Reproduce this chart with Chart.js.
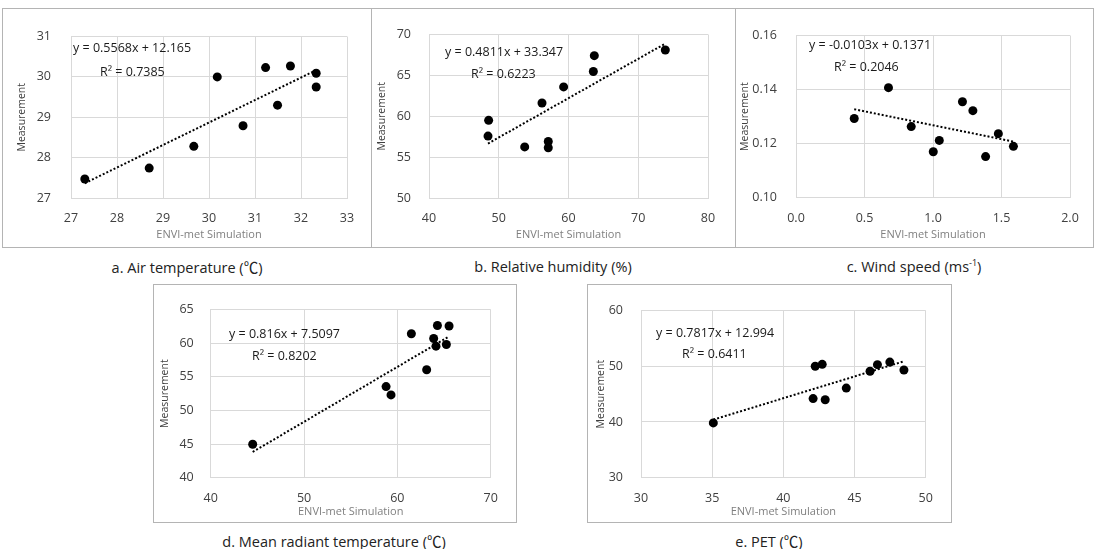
<!DOCTYPE html>
<html>
<head>
<meta charset="utf-8">
<script src="https://cdn.jsdelivr.net/npm/chart.js@4.4.1/dist/chart.umd.min.js"></script>
<style>
  body { margin: 0; background: #fff; width: 1095px; height: 549px; position: relative; overflow: hidden;
         font-family: "Open Sans", "Noto Sans CJK KR", sans-serif; }
  .box { position: absolute; border: 1px solid #b4b4b4; box-sizing: border-box; background: #fff; }
  .box canvas { position: absolute; left: 0; top: 0; }
  .cap { position: absolute; transform: translate(-50%, -50%); font-size: 14.5px; color: #222; white-space: nowrap; }
  .cap sup { font-size: 9px; }
</style>
</head>
<body>
<div class="cap" style="left:187px;top:266px">a. Air temperature (℃)</div>
<div class="cap" style="left:553px;top:266px">b. Relative humidity (%)</div>
<div class="cap" style="left:914px;top:266px">c. Wind speed (ms<sup>-1</sup>)</div>
<div class="cap" style="left:334px;top:540px">d. Mean radiant temperature (℃)</div>
<div class="cap" style="left:769px;top:540px">e. PET (℃)</div>
<script>
// a. Air temperature
const airSim  = [27.30, 28.70, 29.67, 30.18, 30.74, 31.23, 31.49, 31.77, 32.33, 32.33];
const airMeas = [27.47, 27.74, 28.28, 30.00, 28.79, 30.23, 29.30, 30.27, 30.09, 29.75];
const airXTicks = [27, 28, 29, 30, 31, 32, 33];
const airYTicks = [27, 28, 29, 30, 31];

// b. Relative humidity
const rhSim  = [48.55, 48.46, 53.72, 56.20, 57.10, 57.10, 59.30, 63.56, 63.70, 73.88];
const rhMeas = [59.50, 57.57, 56.25, 61.62, 56.91, 56.14, 63.59, 65.48, 67.41, 68.10];
const rhXTicks = [40, 50, 60, 70, 80];
const rhYTicks = [50, 55, 60, 65, 70];

// c. Wind speed
const wsSim  = [0.425, 0.675, 0.841, 1.002, 1.046, 1.215, 1.291, 1.384, 1.477, 1.587];
const wsMeas = [0.1293, 0.1407, 0.1263, 0.1170, 0.1212, 0.1355, 0.1322, 0.1152, 0.1237, 0.1190];
const wsXTicks = [0.0, 0.5, 1.0, 1.5, 2.0];
const wsYTicks = [0.10, 0.12, 0.14, 0.16];

// d. Mean radiant temperature
const mrtSim  = [44.50, 58.79, 59.32, 61.50, 63.14, 63.89, 64.14, 64.29, 65.25, 65.54];
const mrtMeas = [44.97, 53.54, 52.31, 61.40, 56.05, 60.69, 59.55, 62.63, 59.79, 62.54];
const mrtXTicks = [40, 50, 60, 70];
const mrtYTicks = [40, 45, 50, 55, 60, 65];

// e. PET
const petSim  = [35.08, 42.09, 42.24, 42.73, 42.94, 44.42, 46.09, 46.61, 47.48, 48.47];
const petMeas = [39.83, 44.20, 50.00, 50.34, 43.98, 46.08, 49.09, 50.28, 50.74, 49.32];
const petXTicks = [30, 35, 40, 45, 50];
const petYTicks = [30, 40, 50, 60];

Chart.defaults.font.family = "'Open Sans', 'Noto Sans CJK KR', sans-serif";

// page positions of each frame and plot area: [left, top, right, bottom]
const panels = [
  { sim: airSim, meas: airMeas, xTicks: airXTicks, yTicks: airYTicks, xDec: 0, yDec: 0,
    slope: 0.5568, icpt: 12.165, eq: 'y = 0.5568x + 12.165', r2: 'R² = 0.7385',
    box: [2, 8, 371, 247], plot: [71, 24.5, 347, 198], yTitleX: 22, xTitleY: 235, yPad: 20,
    eqPos: [73, 48], r2Pos: [100, 72] },
  { sim: rhSim, meas: rhMeas, xTicks: rhXTicks, yTicks: rhYTicks, xDec: 0, yDec: 0,
    slope: 0.4811, icpt: 33.347, eq: 'y = 0.4811x + 33.347', r2: 'R² = 0.6223',
    box: [371, 8, 735, 247], plot: [429, 25, 708, 198], yTitleX: 382, xTitleY: 235, yPad: 18,
    eqPos: [445, 52], r2Pos: [471, 74] },
  { sim: wsSim, meas: wsMeas, xTicks: wsXTicks, yTicks: wsYTicks, xDec: 1, yDec: 2,
    slope: -0.0103, icpt: 0.1371, eq: 'y = -0.0103x + 0.1371', r2: 'R² = 0.2046',
    box: [735, 8, 1093, 247], plot: [796, 25.7, 1070, 197.7], yTitleX: 745, xTitleY: 235, yPad: 19,
    eqPos: [809, 45], r2Pos: [834, 67] },
  { sim: mrtSim, meas: mrtMeas, xTicks: mrtXTicks, yTicks: mrtYTicks, xDec: 0, yDec: 0,
    slope: 0.816, icpt: 7.5097, eq: 'y = 0.816x + 7.5097', r2: 'R² = 0.8202',
    box: [153, 284, 516, 522], plot: [210.7, 301.7, 490.7, 477.7], yTitleX: 165, xTitleY: 512, yPad: 17,
    eqPos: [229, 334], r2Pos: [252, 356] },
  { sim: petSim, meas: petMeas, xTicks: petXTicks, yTicks: petYTicks, xDec: 0, yDec: 0,
    slope: 0.7817, icpt: 12.994, eq: 'y = 0.7817x + 12.994', r2: 'R² = 0.6411',
    box: [587, 284, 951, 522], plot: [641, 301.7, 925.7, 477.7], yTitleX: 601, xTitleY: 512, yPad: 18,
    eqPos: [656, 333], r2Pos: [682, 354] }
];

// trendline equation text
const eqLabels = {
  id: 'eqLabels',
  afterDatasetsDraw(chart, args, opts) {
    const ctx = chart.ctx;
    ctx.save();
    ctx.font = "12.5px 'Open Sans', sans-serif";
    ctx.fillStyle = '#1a1a1a';
    ctx.textBaseline = 'middle';
    ctx.textAlign = 'left';
    opts.items.forEach(it => ctx.fillText(it.text, it.x, it.y));
    ctx.restore();
  }
};

function makePanel(p) {
  const [bl, bt, br, bb] = p.box;
  const div = document.createElement('div');
  div.className = 'box';
  div.style.left = bl + 'px';
  div.style.top = bt + 'px';
  div.style.width = (br - bl + 1) + 'px';
  div.style.height = (bb - bt + 1) + 'px';
  const cw = br - bl - 1, ch = bb - bt - 1;
  const canvas = document.createElement('canvas');
  canvas.width = cw; canvas.height = ch;
  canvas.style.width = cw + 'px'; canvas.style.height = ch + 'px';
  div.appendChild(canvas);
  document.body.appendChild(div);

  const ox = bl + 1, oy = bt + 1;
  const pl = p.plot[0] - ox, pt = p.plot[1] - oy, pr = p.plot[2] - ox, pb = p.plot[3] - oy;
  const xTitleLh = 11 * 1.2, yTitleLh = 10.5 * 1.2;
  const xTitlePad = Math.max(0, ch - (p.xTitleY - oy) - xTitleLh / 2);
  const yTitlePad = Math.max(0, (p.yTitleX - ox) - yTitleLh / 2);

  const xmin = Math.min(...p.sim), xmax = Math.max(...p.sim);
  const points = p.sim.map((x, i) => ({ x: x, y: p.meas[i] }));
  const trend = [{ x: xmin, y: p.slope * xmin + p.icpt }, { x: xmax, y: p.slope * xmax + p.icpt }];

  const gridColor = '#d9d9d9';
  const tickColor = '#404040';

  new Chart(canvas, {
    type: 'scatter',
    data: {
      datasets: [
        { data: points, pointRadius: 4.5, pointBackgroundColor: '#000', pointBorderWidth: 0, order: 2 },
        { data: trend, showLine: true, borderColor: '#000', borderWidth: 2, borderDash: [2, 2],
          pointRadius: 0, fill: false, order: 1 }
      ]
    },
    options: {
      responsive: false,
      animation: false,
      layout: { padding: { left: 0, top: pt, right: cw - pr, bottom: 0 } },
      plugins: {
        legend: { display: false },
        tooltip: { enabled: false },
        eqLabels: { items: [
          { text: p.eq, x: p.eqPos[0] - ox, y: p.eqPos[1] - oy },
          { text: p.r2, x: p.r2Pos[0] - ox, y: p.r2Pos[1] - oy }
        ] }
      },
      scales: {
        x: {
          type: 'linear',
          min: p.xTicks[0], max: p.xTicks[p.xTicks.length - 1],
          afterBuildTicks: s => { s.ticks = p.xTicks.map(v => ({ value: v })); },
          afterFit: s => { s.height = ch - pb; },
          ticks: { callback: v => Number(v).toFixed(p.xDec), padding: 13, color: tickColor,
                   font: { size: 12.5 }, maxRotation: 0, autoSkip: false },
          grid: { color: gridColor, drawTicks: false },
          border: { color: gridColor },
          title: { display: true, text: 'ENVI-met Simulation', color: '#7f7f7f', font: { size: 11 },
                   padding: { top: 0, bottom: xTitlePad } }
        },
        y: {
          type: 'linear',
          min: p.yTicks[0], max: p.yTicks[p.yTicks.length - 1],
          afterBuildTicks: s => { s.ticks = p.yTicks.map(v => ({ value: v })); },
          afterFit: s => { s.width = pl; },
          ticks: { callback: v => Number(v).toFixed(p.yDec), padding: p.yPad, color: tickColor,
                   font: { size: 12.5 }, autoSkip: false },
          grid: { color: gridColor, drawTicks: false },
          border: { color: gridColor },
          title: { display: true, text: 'Measurement', color: '#404040', font: { size: 10.5 },
                   padding: { top: yTitlePad, bottom: 0 } }
        }
      }
    },
    plugins: [eqLabels]
  });
}

panels.forEach(makePanel);
</script>
</body>
</html>
